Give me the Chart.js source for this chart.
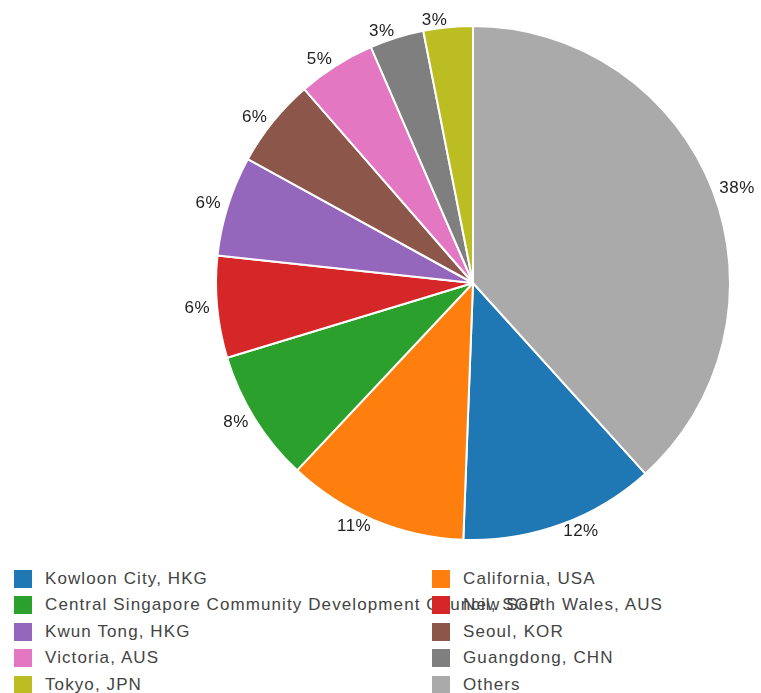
<!DOCTYPE html>
<html>
<head>
<meta charset="utf-8">
<script src="https://cdn.jsdelivr.net/npm/chart.js@4/dist/chart.umd.min.js"></script>
<style>
  html, body { margin: 0; padding: 0; background: #fff; }
  body { width: 761px; height: 693px; position: relative; overflow: hidden; font-family: "Liberation Sans", Arial, sans-serif; }
  #chartBox { position: absolute; left: 0; top: 0; width: 761px; height: 566px; }
  .legend-item { position: absolute; height: 18px; white-space: nowrap; }
  .legend-item .swatch { position: absolute; left: 0; top: 0; width: 18px; height: 18px; }
  .legend-item .text { position: absolute; left: 31px; top: -2px; font-size: 17px; line-height: 22px; letter-spacing: 1.1px; color: #444; }
</style>
</head>
<body>
<div id="chartBox"><canvas id="regionPie"></canvas></div>
<div id="legend"></div>
<script>
const regions = [
  "Kowloon City, HKG",
  "California, USA",
  "Central Singapore Community Development Council, SGP",
  "New South Wales, AUS",
  "Kwun Tong, HKG",
  "Seoul, KOR",
  "Victoria, AUS",
  "Guangdong, CHN",
  "Tokyo, JPN",
  "Others",
];
const shares = [12.3, 11.4, 8.3, 6.4, 6.3, 5.6, 4.9, 3.4, 3.1, 38.3];
const colors = [
  "#1f77b4", "#ff7f0e", "#2ca02c", "#d62728", "#9467bd",
  "#8c564b", "#e377c2", "#7f7f7f", "#bcbd22", "#aaaaaa",
];

const total = shares.reduce((a, b) => a + b, 0);
// "Others" is last in the data but begins at 12 o'clock
const startAngle = (shares[shares.length - 1] / total) * 360;

// percent labels just outside the rim
const outsideLabels = {
  id: "outsideLabels",
  afterDatasetsDraw(chart) {
    const ctx = chart.ctx;
    const arcs = chart.getDatasetMeta(0).data;
    ctx.save();
    ctx.font = "17px 'Liberation Sans', Arial, sans-serif";
    ctx.letterSpacing = "0.5px";
    ctx.fillStyle = "#222";
    ctx.textBaseline = "middle";
    arcs.forEach((arc, i) => {
      const p = arc.getProps(["x", "y", "startAngle", "endAngle", "outerRadius"], true);
      const mid = (p.startAngle + p.endAngle) / 2;
      const r = p.outerRadius + 7;
      const x = p.x + Math.cos(mid) * r;
      const y = p.y + Math.sin(mid) * r;
      ctx.textAlign = Math.cos(mid) >= 0 ? "left" : "right";
      ctx.fillText(Math.round((shares[i] / total) * 100) + "%", x, y);
    });
    ctx.restore();
  },
};

new Chart(document.getElementById("regionPie"), {
  type: "pie",
  data: {
    labels: regions,
    datasets: [
      {
        data: shares,
        backgroundColor: colors,
        borderColor: "#fff",
        borderWidth: 2,
      },
    ],
  },
  options: {
    responsive: true,
    maintainAspectRatio: false,
    animation: false,
    rotation: startAngle,
    layout: { padding: { top: 25, bottom: 25, left: 215, right: 30 } },
    plugins: { legend: { display: false }, tooltip: { enabled: false } },
  },
  plugins: [outsideLabels],
});

// two-column legend under the pie
const legend = document.getElementById("legend");
regions.forEach((name, i) => {
  const item = document.createElement("div");
  item.className = "legend-item";
  item.style.left = (i % 2 === 0 ? 14 : 432) + "px";
  item.style.top = Math.round(569.5 + Math.floor(i / 2) * 26.5) + "px";
  const sw = document.createElement("div");
  sw.className = "swatch";
  sw.style.background = colors[i];
  const tx = document.createElement("div");
  tx.className = "text";
  tx.textContent = name;
  item.appendChild(sw);
  item.appendChild(tx);
  legend.appendChild(item);
});
</script>
</body>
</html>
